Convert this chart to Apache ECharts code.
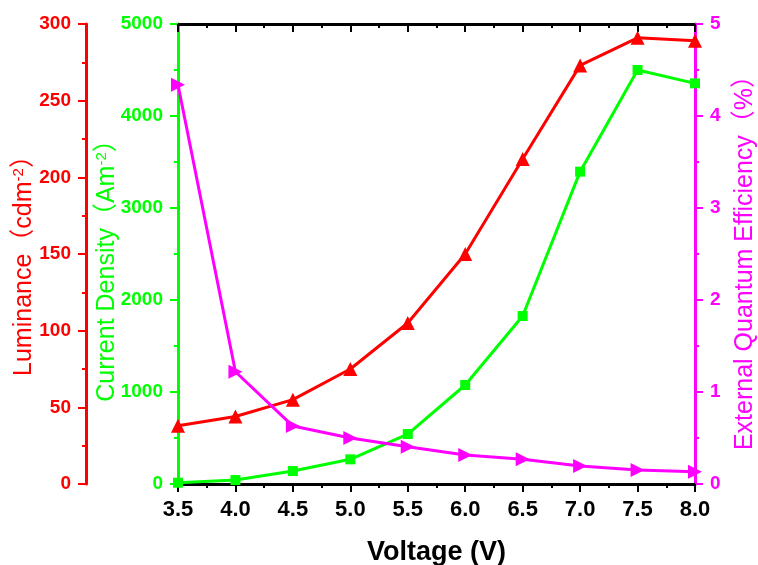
<!DOCTYPE html>
<html>
<head>
<meta charset="utf-8">
<script src="https://cdn.jsdelivr.net/npm/echarts@6/dist/echarts.min.js"></script>
<style>html,body{margin:0;padding:0;background:#fff;}#c{width:758px;height:565px;}</style>
</head>
<body>
<div id="c"></div>
<script>
var voltage = [3.5, 4.0, 4.5, 5.0, 5.5, 6.0, 6.5, 7.0, 7.5, 8.0];
var luminance = [38, 44, 55, 75, 105, 150, 212, 273, 291, 289];
var currentDensity = [14, 43, 141, 268, 543, 1076, 1826, 3395, 4500, 4355];
var eqe = [4.34, 1.22, 0.63, 0.50, 0.405, 0.315, 0.27, 0.196, 0.152, 0.134];

var FONT = "'Liberation Sans', Arial, 'Noto Sans CJK SC', sans-serif";
function pairs(ys){ return voltage.map(function(x,i){ return [x, ys[i]]; }); }

var chart = echarts.init(document.getElementById('c'), null, {renderer:'canvas'});
function yAxisCfg(color, min, max, interval, pos, offset, name, gap, pad) {
  return {
    type:'value', position:pos, offset:offset, min:min, max:max, interval:interval,
    axisLine:{show:true, onZero:false, lineStyle:{color:color, width:3}},
    axisTick:{show:true, inside:false, length:8, lineStyle:{color:color, width:2}},
    minorTick:{show:true, splitNumber:2, length:4, lineStyle:{color:color, width:2}},
    splitLine:{show:false},
    axisLabel:{color:color, fontFamily:FONT, fontWeight:'bold', fontSize:19, margin:15,
      formatter:function(v){ return String(v); }},
    name:name, nameLocation:'middle', nameGap:gap, nameRotate:90, nameMoveOverlap:false,
    nameTextStyle:{color:color, fontFamily:FONT, fontSize:25, padding:pad,
      rich:{a:{color:color, fontFamily:FONT, fontSize:25},
            s:{color:color, fontFamily:FONT, fontSize:15, verticalAlign:'top', padding:[0,0,12,0]}}}
  };
}
var xCommon = {
  type:'value', min:3.5, max:8, interval:0.5,
  axisLine:{show:true, onZero:false, lineStyle:{color:'#000', width:3}},
  splitLine:{show:false}
};
chart.setOption({
  backgroundColor:'#fff',
  animation:false,
  grid:{left:178, right:63, top:24, bottom:81, containLabel:false, outerBoundsMode:'none'},
  xAxis:[
    Object.assign({}, xCommon, {
      position:'bottom',
      axisTick:{show:true, inside:false, length:8, lineStyle:{color:'#000', width:2}},
      minorTick:{show:true, splitNumber:2, length:4, lineStyle:{color:'#000', width:2}},
      axisLabel:{color:'#000', fontFamily:FONT, fontWeight:'bold', fontSize:22, margin:15,
        formatter:function(v){ return v.toFixed(1); }},
      name:'Voltage (V)', nameLocation:'middle', nameGap:55, nameMoveOverlap:false,
      nameTextStyle:{color:'#000', fontFamily:FONT, fontWeight:'bold', fontSize:27}
    }),
    Object.assign({}, xCommon, {
      position:'top',
      axisTick:{show:true, inside:true, length:8, lineStyle:{color:'#000', width:2}},
      minorTick:{show:true, splitNumber:2, length:4, lineStyle:{color:'#000', width:2}},
      axisLabel:{show:false}
    })
  ],
  yAxis:[
    yAxisCfg('#ff0000', 0, 300, 50, 'left', 92, '{a|Luminance（cdm}{s|-2}{a|）}', 48, [0,11,0,0]),
    yAxisCfg('#00ff00', 0, 5000, 1000, 'left', 0, '{a|Current Density（Am}{s|-2}{a|）}', 57, [0,21,0,0]),
    yAxisCfg('#ff00ff', 0, 5, 1, 'right', 0, 'External Quantum Efficiency（%）', 38, [0,5,0,0])
  ],
  series:[
    {type:'line', name:'Current Density', xAxisIndex:0, yAxisIndex:1, data:pairs(currentDensity),
     symbol:'rect', symbolSize:10, showAllSymbol:true,
     lineStyle:{color:'#00ff00', width:3}, itemStyle:{color:'#00ff00'}, z:2},
    {type:'line', name:'Luminance', xAxisIndex:0, yAxisIndex:0, data:pairs(luminance),
     symbol:'triangle', symbolSize:14, showAllSymbol:true,
     lineStyle:{color:'#ff0000', width:3}, itemStyle:{color:'#ff0000'}, z:3},
    {type:'line', name:'EQE', xAxisIndex:0, yAxisIndex:2, data:pairs(eqe),
     symbol:'triangle', symbolSize:14, symbolRotate:-90, showAllSymbol:true,
     lineStyle:{color:'#ff00ff', width:3}, itemStyle:{color:'#ff00ff'}, z:4}
  ]
});
</script>
</body>
</html>
